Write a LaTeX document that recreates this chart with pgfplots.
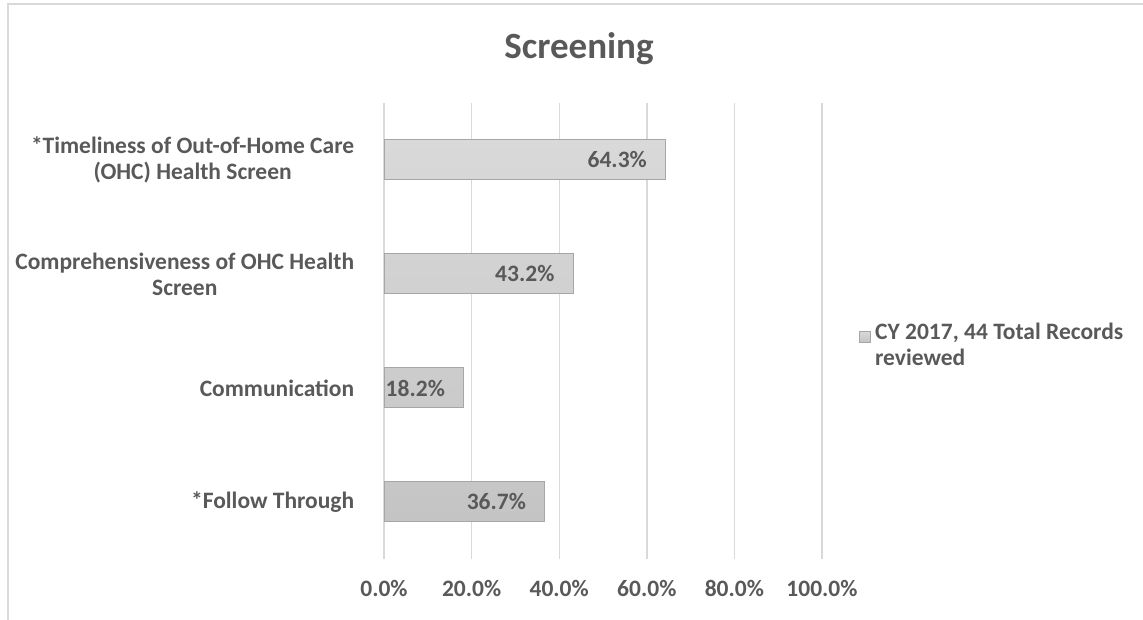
\documentclass[border=0pt]{standalone}
\usepackage{fontspec}
\setmainfont{Carlito}
\usepackage{pgfplots}
\pgfplotsset{compat=1.18}
\definecolor{txt}{HTML}{595959}
\definecolor{gridc}{HTML}{D9D9D9}
\definecolor{barTop}{HTML}{D9D9D9}
\definecolor{barBot}{HTML}{C4C4C4}
\definecolor{barEdge}{HTML}{A6A6A6}
\newcommand{\lblfont}{\bfseries\fontsize{23.5}{26}\selectfont}
\begin{document}
\begin{tikzpicture}[x=1pt,y=1pt]
\path[use as bounding box] (0,0) rectangle (1143,620);
% outer chart frame
\draw[gridc, line width=1.5pt] (8,0) -- (8,616) -- (1143,616);
\node[txt, font=\bfseries\fontsize{37}{42}\selectfont, anchor=base] at (579,561) {Screening};
\begin{axis}[
  at={(384pt,61pt)}, anchor=south west,
  scale only axis, width=438pt, height=456pt,
  xbar, bar width=40pt,
  xmin=0, xmax=100, ymin=-0.5, ymax=3.5,
  /pgf/number format/assume math mode=true,
  xtick={0,20,40,60,80,100},
  xticklabels={0.0\%,20.0\%,40.0\%,60.0\%,80.0\%,100.0\%},
  ytick={0,1,2,3},
  yticklabels={{*Follow Through},{Communication},{Comprehensiveness of OHC Health\\Screen},{*Timeliness of Out-of-Home Care\\(OHC) Health Screen}},
  yticklabel style={align=center, font=\lblfont, text=txt, xshift=-22pt},
  xticklabel style={font=\lblfont, text=txt, yshift=-18pt},
  axis line style={draw=none},
  tick style={draw=none},
  xmajorgrids, grid style={gridc, line width=1.4pt},
  nodes near coords={\pgfmathprintnumber[fixed,fixed zerofill,precision=1]{\pgfplotspointmeta}\%},
  every node near coord/.append style={anchor=east, xshift=-15pt, font=\lblfont, text=txt},
  legend style={at={(1.6877,0.469)}, anchor=east, draw=none, fill=none,
    inner sep=0pt, outer sep=0pt,
    font=\lblfont, text=txt, nodes={align=left, inner sep=0pt}},
  legend image code/.code={%
    \path[draw=none, fill=none, top color=white, bottom color=white, shade=false] (0pt,3pt) -- (16pt,3pt);
    \draw[draw=barEdge, fill=barTop] (0pt,3pt) rectangle (11pt,14pt);},
]
\addplot[draw=barEdge, line width=1pt, top color=barTop, bottom color=barBot] coordinates {
  (36.7,0) (18.2,1) (43.2,2) (64.3,3)
};
\addlegendentry{CY 2017, 44 Total Records\\reviewed}
\end{axis}
\end{tikzpicture}
\end{document}
